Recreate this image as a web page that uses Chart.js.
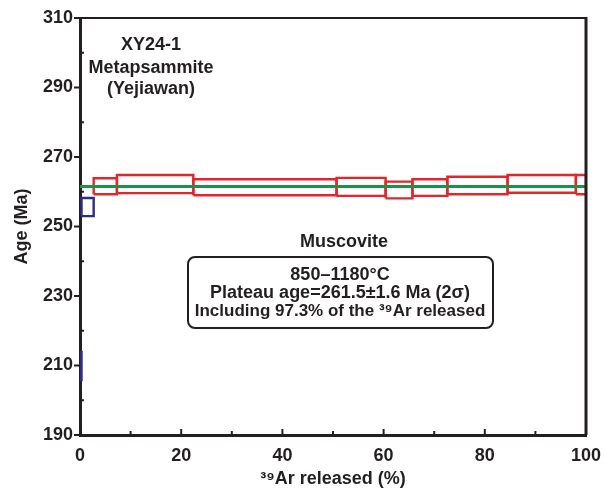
<!DOCTYPE html>
<html><head><meta charset="utf-8">
<script src="https://cdn.jsdelivr.net/npm/chart.js@4.4.1/dist/chart.umd.min.js"></script>
<style>html,body{margin:0;padding:0;background:#fff}#wrap{width:605px;height:488px;position:relative}</style>
</head><body><div id="wrap"><canvas id="c" width="605" height="488"></canvas></div>
<script>
// ---- data ----
const stepStart = [0, 0.3, 2.7, 7.3, 22.4, 50.7, 60.4, 65.7, 72.6, 84.5, 98.0];
const stepEnd   = [0.3, 2.7, 7.3, 22.4, 50.7, 60.4, 65.7, 72.6, 84.5, 98.0, 100];
const ageLow    = [205.8, 253.0, 259.3, 259.6, 259.0, 258.8, 258.1, 258.8, 259.3, 259.7, 259.3];
const ageHigh   = [213.9, 258.2, 263.9, 264.8, 263.6, 264.0, 262.9, 263.6, 264.3, 264.8, 264.8];
const inPlateau = [false, false, true, true, true, true, true, true, true, true, true];
const plateauAge = 261.5;
const plateauFrom = 0, plateauTo = 100;
const xTicks = [0, 20, 40, 60, 80, 100];
const xMinorTicks = [10, 30, 50, 70, 90];
const yTicks = [190, 210, 230, 250, 270, 290, 310];
const yMinorTicks = [200, 220, 240, 260, 280, 300];

const INK = '#231f20', RED = '#e3262b', BLUE = '#2e2b8c', GREEN = '#179447';
const FONT = "'Liberation Sans', Arial, sans-serif";

const datasets = [{
  data: [{x: plateauFrom, y: plateauAge}, {x: plateauTo, y: plateauAge}],
  borderColor: GREEN, borderWidth: 3, showLine: true, pointRadius: 0, fill: false
}];
stepStart.forEach((s, i) => {
  const e = stepEnd[i], lo = ageLow[i], hi = ageHigh[i];
  datasets.push({
    data: [{x: s, y: lo}, {x: e, y: lo}, {x: e, y: hi}, {x: s, y: hi}, {x: s, y: lo}],
    borderColor: inPlateau[i] ? RED : BLUE, borderWidth: 2.4,
    showLine: true, pointRadius: 0, fill: false, tension: 0
  });
});

const decor = {
  id: 'decor',
  afterDatasetsDraw(chart) {
    const ctx = chart.ctx, xs = chart.scales.x, ys = chart.scales.y, a = chart.chartArea;
    ctx.save();
    ctx.strokeStyle = INK; ctx.lineCap = 'butt';
    // frame top & right
    ctx.lineWidth = 2;
    ctx.beginPath(); ctx.moveTo(a.left, a.top); ctx.lineTo(a.right + 1, a.top); ctx.stroke();
    ctx.lineWidth = 3;
    ctx.beginPath(); ctx.moveTo(a.right, a.top - 1); ctx.lineTo(a.right, a.bottom); ctx.stroke();
    // ticks
    ctx.lineWidth = 2;
    yTicks.forEach(v => { const y = ys.getPixelForValue(v); ctx.beginPath(); ctx.moveTo(a.left - 6, y); ctx.lineTo(a.left, y); ctx.stroke(); });
    yMinorTicks.forEach(v => { const y = ys.getPixelForValue(v); ctx.beginPath(); ctx.moveTo(a.left, y); ctx.lineTo(a.left + 4, y); ctx.stroke(); });
    xTicks.forEach(v => { const x = xs.getPixelForValue(v); ctx.beginPath(); ctx.moveTo(x, a.bottom + 2); ctx.lineTo(x, a.bottom - 6); ctx.stroke(); });
    xMinorTicks.forEach(v => { const x = xs.getPixelForValue(v); ctx.beginPath(); ctx.moveTo(x, a.bottom); ctx.lineTo(x, a.bottom - 4); ctx.stroke(); });

    // texts
    ctx.fillStyle = INK; ctx.textAlign = 'center'; ctx.textBaseline = 'middle';
    ctx.font = 'bold 18px ' + FONT;
    ctx.fillText('XY24-1', 151, 45);
    ctx.fillText('Metapsammite', 151, 68);
    ctx.fillText('(Yejiawan)', 151, 89);
    ctx.fillText('Muscovite', 344, 242);

    // rounded box
    ctx.lineWidth = 2;
    ctx.beginPath();
    ctx.roundRect(188, 257, 305, 71, 7);
    ctx.stroke();
    ctx.font = 'bold 18px ' + FONT;
    ctx.fillText('850\u20131180\u00b0C', 340, 275);
    ctx.fillText('Plateau age=261.5\u00b11.6 Ma (2\u03c3)', 340, 293);
    ctx.font = 'bold 17px ' + FONT;
    ctx.fillText('Including 97.3% of the \u00b3\u2079Ar released', 340, 311);
    ctx.restore();
  }
};

new Chart(document.getElementById('c'), {
  type: 'scatter',
  data: { datasets },
  plugins: [decor],
  options: {
    responsive: false, animation: false, devicePixelRatio: 1,
    layout: { padding: { top: 18, right: 19, left: 0, bottom: 0 } },
    plugins: { legend: { display: false }, tooltip: { enabled: false } },
    elements: { line: { borderCapStyle: 'butt', borderJoinStyle: 'miter' } },
    scales: {
      x: {
        type: 'linear', min: 0, max: 100,
        afterBuildTicks: s => { s.ticks = xTicks.map(v => ({value: v})); },
        afterFit: s => { s.height = 53; s.paddingLeft = 0; s.paddingRight = 0; },
        grid: { display: false, drawTicks: false },
        border: { display: true, color: INK, width: 3 },
        ticks: { color: INK, padding: 10, font: { family: FONT, size: 18, weight: 'bold' }, maxRotation: 0 },
        title: { display: true, text: '\u00b3\u2079Ar released (%)', color: INK,
                 font: { family: FONT, size: 18, weight: 'bold', lineHeight: 1 }, padding: { top: 0, bottom: 0 } }
      },
      y: {
        type: 'linear', min: 190, max: 310,
        afterBuildTicks: s => { s.ticks = yTicks.map(v => ({value: v})); },
        afterFit: s => { s.width = 80; s.paddingTop = 0; s.paddingBottom = 0; },
        grid: { display: false, drawTicks: false },
        border: { display: true, color: INK, width: 3 },
        ticks: { color: INK, padding: 7, font: { family: FONT, size: 18, weight: 'bold' } },
        title: { display: true, text: 'Age (Ma)', color: INK,
                 font: { family: FONT, size: 18, weight: 'bold', lineHeight: 1 }, padding: { top: 13, bottom: 0 } }
      }
    }
  }
});
</script></body></html>
